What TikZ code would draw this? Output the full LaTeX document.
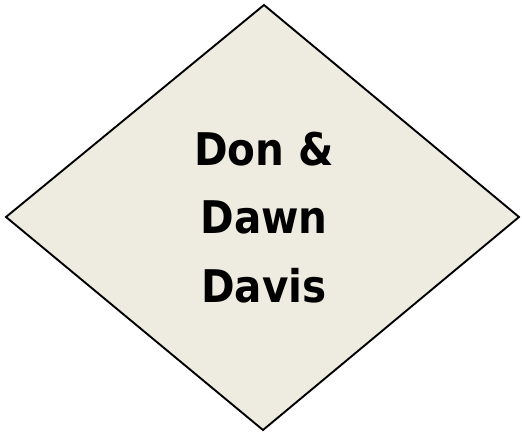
\documentclass[tikz,border=0pt]{standalone}
\usepackage{fontspec}
\newfontfamily\labelfont[FakeStretch=0.9]{DejaVu Sans Bold}
\definecolor{shapefill}{HTML}{EEECE1}
\begin{document}
\begin{tikzpicture}[x=1pt,y=1pt,
  shapeline/.style={draw=black,line width=1.9pt,fill=shapefill,line join=miter},
  txt/.style={font=\labelfont\fontsize{45}{54}\selectfont,anchor=base,inner sep=0pt}]
\useasboundingbox (0,0) rectangle (522,432);
\coordinate (T) at (264,427);
\coordinate (L) at (6,215);
\coordinate (R) at (519,215);
\coordinate (B) at (263,2);
\draw[shapeline] (T) -- (R) -- (B) -- (L) -- cycle;
\node[txt] (l1) at (264,267) {Don \&};
\node[txt] (l2) at (264,199) {Dawn};
\node[txt] (l3) at (264,130) {Davis};
\end{tikzpicture}
\end{document}
